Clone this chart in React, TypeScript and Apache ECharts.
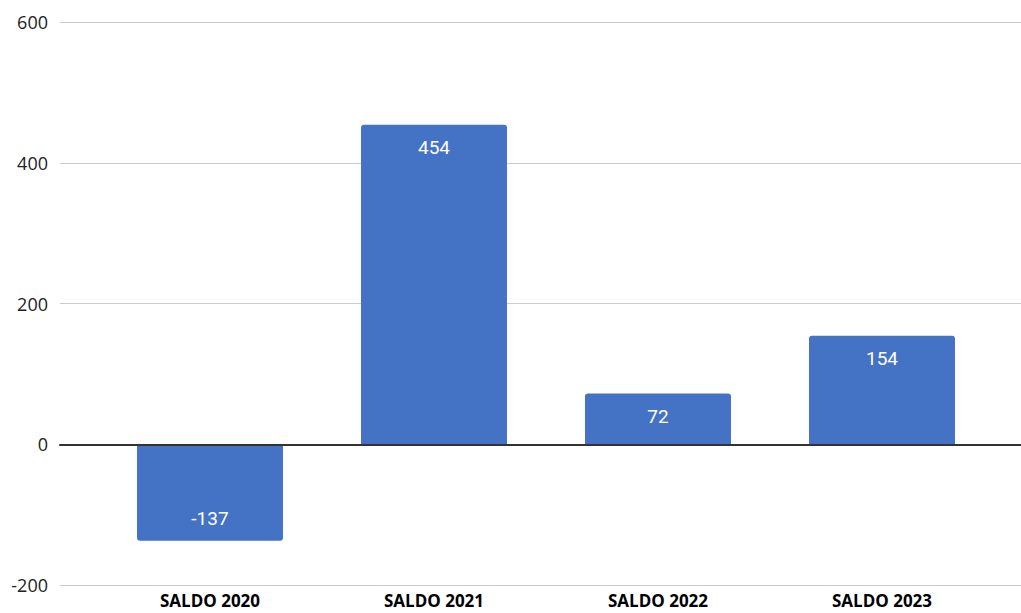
import React, { useEffect, useRef } from "react";
import * as echarts from "echarts";

const categories = ["SALDO 2020", "SALDO 2021", "SALDO 2022", "SALDO 2023"];
const values = [-137, 454, 72, 154];
const yMin = -200;
const yMax = 600;
const yStep = 200;

export default function App() {
  const ref = useRef<HTMLDivElement>(null);
  useEffect(() => {
    const chart = echarts.init(ref.current!, null, { renderer: "svg" });
    chart.setOption({
      animation: false,
      backgroundColor: "#ffffff",
      grid: [
        { left: 60, right: 0, top: 22, bottom: 28, containLabel: false },
        { left: 98, width: 896, top: 22, bottom: 28, containLabel: false },
      ],
      xAxis: [
        {
          type: "category",
          gridIndex: 0,
          data: categories,
          axisLabel: { show: false },
          axisTick: { show: false },
          axisLine: { show: true, onZero: true, lineStyle: { color: "#333333", width: 2 } },
          z: 5,
        },
        {
          type: "category",
          gridIndex: 1,
          data: categories,
          axisTick: { show: false },
          axisLine: { show: false },
          axisLabel: {
            color: "#000000",
            fontFamily: "Open Sans",
            fontWeight: "bold",
            fontSize: 17,
            lineHeight: 18,
            margin: 6,
          },
        },
      ],
      yAxis: [
        {
          type: "value",
          gridIndex: 0,
          min: yMin,
          max: yMax,
          interval: yStep,
          axisLine: { show: false },
          axisTick: { show: false },
          splitLine: { lineStyle: { color: "#cccccc", width: 1 } },
          axisLabel: { color: "#222222", fontFamily: "Open Sans", fontSize: 18, margin: 12 },
        },
        {
          type: "value",
          gridIndex: 1,
          min: yMin,
          max: yMax,
          interval: yStep,
          show: false,
        },
      ],
      series: [
        {
          type: "bar",
          xAxisIndex: 1,
          yAxisIndex: 1,
          barWidth: 146,
          data: values.map((v) => ({
            value: v,
            itemStyle: { borderRadius: v >= 0 ? [3, 3, 0, 0] : [0, 0, 3, 3] },
            label: { position: v >= 0 ? "insideTop" : "insideBottom" },
          })),
          itemStyle: { color: "#4472C4" },
          label: {
            show: true,
            color: "#ffffff",
            fontFamily: "Roboto",
            fontSize: 19,
            distance: 13,
          },
        },
      ],
    });
    return () => chart.dispose();
  }, []);
  return <div ref={ref} style={{ width: 1021, height: 613, position: "absolute", left: 0, top: 0 }} />;
}
